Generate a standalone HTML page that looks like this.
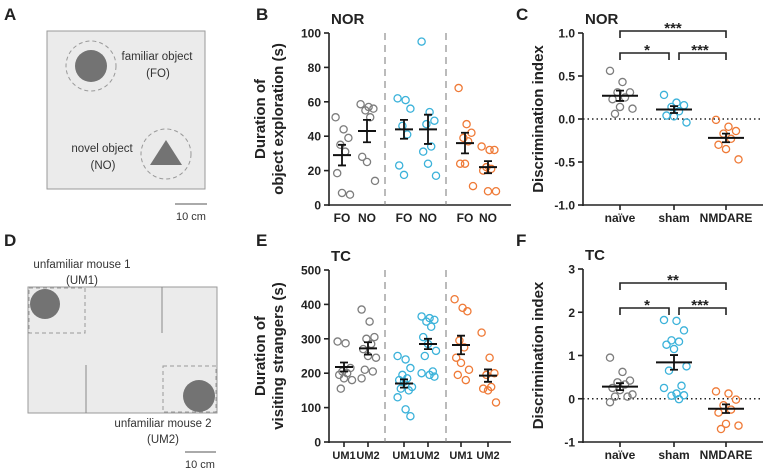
<!DOCTYPE html>
<html><head><meta charset="utf-8"><style>
body{margin:0;background:#fff}
svg{display:block;font-family:"Liberation Sans",Arial,sans-serif}
.t{font-weight:bold;fill:#222}
</style></head><body>
<svg id="fig" width="767" height="473" viewBox="0 0 767 473">
<g font-size="17" class="t">
<text x="4" y="20" class="t">A</text><text x="256" y="20" class="t">B</text><text x="516" y="20" class="t">C</text>
<text x="4" y="246" class="t">D</text><text x="256" y="246" class="t">E</text><text x="516" y="246" class="t">F</text>
</g>
<g>
<rect x="47" y="31" width="158" height="158" fill="#ebebeb" stroke="#999" stroke-width="1"/>
<circle cx="91" cy="66" r="25" fill="none" stroke="#999" stroke-dasharray="4,3"/>
<circle cx="91" cy="66" r="16" fill="#737373"/>
<circle cx="166" cy="154" r="25" fill="none" stroke="#999" stroke-dasharray="4,3"/>
<polygon points="166,140 150,165 182,165" fill="#737373"/>
<text x="157" y="60" font-size="11.5" text-anchor="middle" fill="#333">familiar object</text>
<text x="158" y="77" font-size="11.5" text-anchor="middle" fill="#333">(FO)</text>
<text x="102" y="152" font-size="11.5" text-anchor="middle" fill="#333">novel object</text>
<text x="103" y="169" font-size="11.5" text-anchor="middle" fill="#333">(NO)</text>
<line x1="175" y1="204" x2="207" y2="204" stroke="#555"/>
<text x="191" y="220" font-size="11" text-anchor="middle" fill="#333">10 cm</text>
</g>
<g>
<rect x="28" y="287" width="189" height="126" fill="#ebebeb" stroke="#999"/>
<rect x="29" y="288" width="56" height="45" fill="none" stroke="#999" stroke-dasharray="4,3"/>
<circle cx="45" cy="304" r="15" fill="#737373"/>
<line x1="86" y1="365" x2="86" y2="413" stroke="#888"/>
<line x1="162" y1="287" x2="162" y2="333" stroke="#888"/>
<rect x="163" y="366" width="53" height="46" fill="none" stroke="#999" stroke-dasharray="4,3"/>
<circle cx="199" cy="396" r="16" fill="#737373"/>
<text x="82" y="268" font-size="11.5" text-anchor="middle" fill="#333">unfamiliar mouse 1</text>
<text x="82" y="284" font-size="11.5" text-anchor="middle" fill="#333">(UM1)</text>
<text x="163" y="427" font-size="11.5" text-anchor="middle" fill="#333">unfamiliar mouse 2</text>
<text x="163" y="443" font-size="11.5" text-anchor="middle" fill="#333">(UM2)</text>
<line x1="185" y1="452" x2="216" y2="452" stroke="#555"/>
<text x="200" y="468" font-size="11" text-anchor="middle" fill="#333">10 cm</text>
</g>
</svg>
<script>
// Panel B data (seconds)
const bCats=["FO","NO","FO","NO","FO","NO"];
const bPoints=[[51,44,39,35,31,18.5,7,6],[58.6,57,56,55,51,28,25,14],[62,61,56,46,41,23,17.5],[95,54,49,47,34,31,24,17],[68,47,42,39,37,24,24,11],[34,32,32,22,21,20,8,8]];
const bMeans=[29,43,44,44,36,22];
const bSems=[6,6.5,5.5,8.5,6,3.5];
const bTicks=[0,20,40,60,80,100];
// Panel C data
const cCats=["naïve","sham","NMDARE"];
const cPoints=[[0.56,0.43,0.31,0.31,0.25,0.23,0.14,0.12,0.06],[0.28,0.19,0.16,0.14,0.09,0.04,0.03,-0.04],[-0.01,-0.09,-0.14,-0.17,-0.23,-0.3,-0.35,-0.47]];
const cMeans=[0.27,0.11,-0.22];
const cSems=[0.06,0.04,0.05];
const cTicks=[-1.0,-0.5,0.0,0.5,1.0];
const cSig=["***","*","***"];
// Panel E data
const eCats=["UM1","UM2","UM1","UM2","UM1","UM2"];
const ePoints=[[292,287,215,205,200,195,185,180,155],[385,350,305,300,285,270,250,245,210,205,185],[250,240,215,195,185,180,175,160,155,150,130,95,75],[365,360,355,350,335,305,285,265,250,205,200,195,190],[415,390,380,295,275,245,230,210,195,180],[318,245,200,195,160,155,150,115]];
const eMeans=[218,272,170,285,282,193];
const eSems=[13,18,12,15,27,18];
const eTicks=[0,100,200,300,400,500];
// Panel F data
const fCats=["naïve","sham","NMDARE"];
const fPoints=[[0.95,0.62,0.42,0.38,0.33,0.25,0.2,0.1,0.05,0.05,-0.08],[1.82,1.8,1.58,1.35,1.32,1.25,1.15,0.75,0.65,0.3,0.25,0.12,0.08,0.07,-0.01],[0.17,0.12,-0.02,-0.15,-0.25,-0.32,-0.58,-0.62,-0.7]];
const fMeans=[0.28,0.84,-0.23];
const fSems=[0.08,0.17,0.1];
const fTicks=[-1,0,1,2,3];
const fSig=["**","*","***"];

const NS="http://www.w3.org/2000/svg";
const svg=document.getElementById('fig');
const COL=["#7d7d7d","#3bb2da","#ef7a37"];
function el(tag,attrs,parent){const e=document.createElementNS(NS,tag);for(const k in attrs)e.setAttribute(k,attrs[k]);(parent||svg).appendChild(e);return e;}
function txt(s,attrs,parent){const e=el('text',attrs,parent);e.textContent=s;return e;}

function panel(cfg){
  const g=el('g',{});
  
  
  const y=v=>cfg.y0+(v-cfg.vmin)/(cfg.vmax-cfg.vmin)*(cfg.y1-cfg.y0);
  const ya=el('line',{x1:cfg.ax,y1:cfg.y1,x2:cfg.ax,y2:cfg.y0+1,stroke:'#222','stroke-width':1.6},g);
  
  
  const xa=el('line',{x1:cfg.ax,y1:cfg.y0,x2:cfg.axEnd,y2:cfg.y0,stroke:'#222','stroke-width':1.6},g);
  
  
  cfg.ticks.forEach(t=>{
    el('line',{x1:cfg.ax-5,y1:y(t),x2:cfg.ax,y2:y(t),stroke:'#222','stroke-width':1.6},g);
    const tl=txt(cfg.fmt(t),{x:cfg.ax-8,y:y(t)+4.5,'text-anchor':'end','font-size':12,class:'t'},g);
    
    
  });
  const cy=(cfg.y0+cfg.y1)/2;
  cfg.ytitle.forEach((line,i)=>{
    const tx=cfg.ytx+i*18;
    const yt=txt(line,{x:tx,y:cy,transform:`rotate(-90 ${tx} ${cy})`,'text-anchor':'middle','font-size':15,class:'t'},g);
    
    
  });
  const ttl=txt(cfg.title,{x:cfg.ax+2,y:cfg.y1-9,'font-size':15,class:'t'},g);
  
  
  if(cfg.zeroLine){
    const z=el('line',{x1:cfg.ax,y1:y(0),x2:cfg.axEnd,y2:y(0),stroke:'#222','stroke-width':1.6,'stroke-dasharray':'1.5,3'},g);
    
    
  }
  (cfg.dividers||[]).forEach(dx=>{
    const d=el('line',{x1:dx,y1:cfg.y1,x2:dx,y2:cfg.y0,stroke:'#777','stroke-width':1,'stroke-dasharray':'7,5'},g);
    
    
  });
  cfg.cats.forEach((c,i)=>{
    const cx=cfg.xs[i];const col=COL[cfg.colorOf(i)];
    if(cfg.xticks){el('line',{x1:cx,y1:cfg.y0,x2:cx,y2:cfg.y0+5,stroke:'#222','stroke-width':1.6},g);}
    const lb=txt(c,{x:cx,y:cfg.y0+17,'text-anchor':'middle','font-size':cfg.xfs||12,class:'t'},g);
    
    
    cfg.pts[i].forEach((v,j)=>{
      const jit=(((j*7)%5)-2)*cfg.jit+((j%2)?cfg.jit*0.5:0);
      const p=el('circle',{cx:cx+jit,cy:y(v),r:3.6,fill:'none',stroke:col,'stroke-width':1.3},g);
      
      
    });
    const m=el('line',{x1:cx-cfg.mw,y1:y(cfg.means[i]),x2:cx+cfg.mw,y2:y(cfg.means[i]),stroke:'#111','stroke-width':2},g);
    
    
    const up=y(cfg.means[i]+cfg.sems[i]),dn=y(cfg.means[i]-cfg.sems[i]);
    const eb=el('path',{d:`M${cx},${up}V${dn}M${cx-4},${up}H${cx+4}M${cx-4},${dn}H${cx+4}`,stroke:'#111','stroke-width':1.8,fill:'none'},g);
    
    
  });
  if(cfg.sig){
    const [a,b,c]=cfg.xs;const by=cfg.brY;
    const br=el('path',{d:`M${a},${by[0]+7}V${by[0]}H${c}V${by[0]+7}M${a},${by[1]+7}V${by[1]}H${b-5}V${by[1]+7}M${b+5},${by[1]+7}V${by[1]}H${c}V${by[1]+7}`,stroke:'#222','stroke-width':1.6,fill:'none'},g);
    
    
    [[(a+c)/2,by[0]-3],[(a+b)/2,by[1]-3],[(b+c)/2,by[1]-3]].forEach((p,k)=>{
      const s=txt(cfg.sig[k],{x:p[0],y:p[1]+5,'text-anchor':'middle','font-size':15,class:'t'},g);
      
      
    });
  }
}
const grp6=i=>Math.floor(i/2), grp3=i=>i;
panel({name:'panel-b-nor-duration',cats:bCats,pts:bPoints,means:bMeans,sems:bSems,ticks:bTicks,vmin:0,vmax:100,y0:205,y1:33,ax:329,axEnd:511,xs:[342,367,404,428,465,488],colorOf:grp6,fmt:v=>v,ytitle:["Duration of","object exploration (s)"],ytx:265,title:"NOR",dividers:[385,446],xticks:false,jit:3.2,mw:9});
panel({name:'panel-c-nor-discrimination',cats:cCats,pts:cPoints,means:cMeans,sems:cSems,ticks:cTicks,vmin:-1,vmax:1,y0:205,y1:33,ax:583,axEnd:763,xs:[620,674,726],colorOf:grp3,fmt:v=>v.toFixed(1),ytitle:["Discrimination index"],ytx:543,title:"NOR",zeroLine:true,xticks:true,jit:5,mw:18,sig:cSig,brY:[31,53]});
panel({name:'panel-e-tc-duration',cats:eCats,pts:ePoints,means:eMeans,sems:eSems,ticks:eTicks,vmin:0,vmax:500,y0:442,y1:270,ax:329,axEnd:511,xs:[344,368,404,428,461,488],colorOf:grp6,fmt:v=>v,ytitle:["Duration of","visiting strangers (s)"],ytx:265,title:"TC",dividers:[385,446],xticks:true,jit:3.2,mw:9,xfs:11});
panel({name:'panel-f-tc-discrimination',cats:fCats,pts:fPoints,means:fMeans,sems:fSems,ticks:fTicks,vmin:-1,vmax:3,y0:442,y1:269,ax:583,axEnd:763,xs:[620,674,726],colorOf:grp3,fmt:v=>v,ytitle:["Discrimination index"],ytx:543,title:"TC",zeroLine:true,xticks:true,jit:5,mw:18,sig:fSig,brY:[283,308]});
</script>
</body></html>
